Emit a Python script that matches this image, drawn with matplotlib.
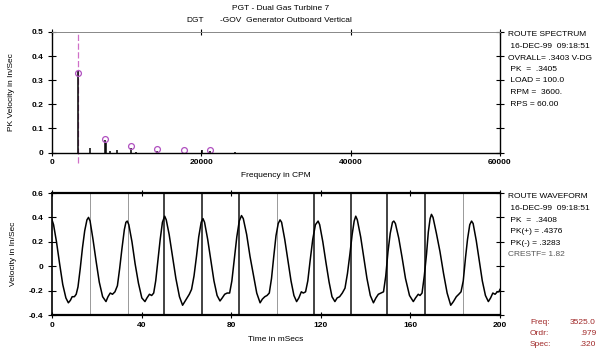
import matplotlib
matplotlib.use("Agg")
import matplotlib.pyplot as plt

plt.rcParams["font.family"] = ["Liberation Sans", "DejaVu Sans"]
plt.rcParams["font.size"] = 6

# ---- spectrum (top): spectral lines in CPM / PK in/sec ----
spec_freq = [3525, 5100, 7050, 7250, 7750, 8650, 10575, 11300, 14100, 20050, 21150, 24500]
spec_amp = [0.340, 0.018, 0.050, 0.040, 0.006, 0.012, 0.020, 0.004, 0.008, 0.012, 0.006, 0.004]
harm_freq = [3525, 7050, 10575, 14100, 17625, 21150]
harm_amp = [0.330, 0.055, 0.027, 0.013, 0.009, 0.009]
cursor_freq = 3525
spec_xticks = [0, 20000, 40000, 60000]
spec_yticks = [0, 0.1, 0.2, 0.3, 0.4, 0.5]
spec_ylabels = ["0", "0.1", "0.2", "0.3", "0.4", "0.5"]

# ---- waveform (bottom): time in ms / velocity in/sec ----
wave_t = [0, 0.7, 2.0, 3.4, 4.8, 6.2, 7.3, 8.2, 9.0, 10.0, 10.8, 11.6, 12.6, 13.6, 14.6, 15.6, 16.3,
          17.0, 18.3, 19.7, 21.1, 22.6, 24.1, 25.0, 26.0, 27.0, 28.1, 29.2, 30.2, 31.2, 32.3, 33.0, 33.6,
          34.3, 35.7, 37.1, 38.6, 40.1, 41.5, 42.4, 43.5, 44.5, 45.4, 46.3, 47.3, 48.3, 49.3, 50.3,
          51.0, 52.3, 53.8, 55.3, 56.9, 58.3, 59.3, 60.3, 61.3, 62.3, 63.4, 64.5, 65.5, 66.6, 67.4,
          68.1, 69.5, 70.9, 72.3, 73.7, 75.0, 76.0, 77.1, 78.2, 79.3, 80.3, 81.4, 82.5, 83.6, 84.6,
          85.4, 86.9, 88.4, 89.9, 91.4, 92.9, 93.9, 95.0, 96.0, 97.0, 98.0, 99.0, 100.0, 101.0, 101.8,
          102.5, 103.9, 105.3, 106.7, 108.0, 109.2, 110.2, 111.3, 112.2, 113.2, 114.2, 115.2, 116.4, 117.6, 118.8,
          119.5, 120.9, 122.3, 123.7, 125.0, 126.3, 127.3, 128.4, 129.6, 130.8, 131.9, 133.0, 134.0, 134.9, 135.6,
          136.3, 137.8, 139.2, 140.6, 142.1, 143.5, 144.6, 145.7, 146.8, 148.0, 149.0, 150.0, 151.0, 152.0, 152.6,
          153.3, 154.8, 156.3, 157.8, 159.6, 161.3, 162.3, 163.5, 164.3, 165.2, 166.2, 167.2, 168.0, 168.8, 169.4,
          170.1, 171.6, 173.2, 174.8, 176.4, 178.0, 179.2, 180.5, 181.6, 182.6, 183.6, 184.6, 185.5, 186.5, 187.3,
          188.0, 189.4, 190.8, 192.1, 193.5, 194.8, 195.8, 196.8, 197.8, 198.8, 199.5, 200.0]
wave_v = [0.38, 0.34, 0.20, 0.02, -0.15, -0.26, -0.30, -0.28, -0.25, -0.25, -0.23, -0.17, -0.02, 0.15, 0.29, 0.38, 0.40,
          0.37, 0.22, 0.04, -0.13, -0.25, -0.29, -0.25, -0.22, -0.23, -0.21, -0.16, -0.02, 0.14, 0.30, 0.36, 0.37,
          0.34, 0.20, 0.02, -0.14, -0.26, -0.29, -0.26, -0.23, -0.24, -0.22, -0.12, 0.05, 0.22, 0.36, 0.41,
          0.38, 0.26, 0.08, -0.10, -0.25, -0.32, -0.29, -0.26, -0.23, -0.19, -0.08, 0.08, 0.24, 0.36, 0.39,
          0.36, 0.22, 0.05, -0.12, -0.24, -0.285, -0.26, -0.23, -0.22, -0.22, -0.12, 0.06, 0.24, 0.37, 0.415,
          0.39, 0.26, 0.08, -0.07, -0.22, -0.30, -0.27, -0.25, -0.24, -0.22, -0.10, 0.08, 0.25, 0.35, 0.38,
          0.36, 0.22, 0.05, -0.12, -0.24, -0.29, -0.26, -0.21, -0.22, -0.21, -0.12, 0.04, 0.22, 0.34, 0.37,
          0.34, 0.20, 0.03, -0.13, -0.25, -0.29, -0.26, -0.25, -0.22, -0.18, -0.06, 0.10, 0.26, 0.37, 0.41,
          0.38, 0.24, 0.07, -0.10, -0.24, -0.30, -0.26, -0.23, -0.22, -0.21, -0.08, 0.12, 0.27, 0.36, 0.37,
          0.35, 0.23, 0.07, -0.10, -0.24, -0.29, -0.26, -0.23, -0.24, -0.22, -0.08, 0.10, 0.28, 0.39, 0.425,
          0.40, 0.27, 0.12, -0.06, -0.22, -0.32, -0.29, -0.25, -0.23, -0.21, -0.12, 0.07, 0.22, 0.34, 0.37,
          0.35, 0.21, 0.04, -0.12, -0.24, -0.29, -0.26, -0.22, -0.23, -0.21, -0.21, -0.19]
cycle_t = [17.0, 33.8, 50.0, 66.8, 83.5, 100.3, 117.1, 133.5, 149.4, 166.5, 183.6]
cycle_dark = [False, False, True, True, True, False, True, True, True, True, False]
wave_xticks = [0, 40, 80, 120, 160, 200]
wave_yticks = [-0.4, -0.2, 0, 0.2, 0.4, 0.6]
wave_ylabels = ["-0.4", "-0.2", "0", "0.2", "0.4", "0.6"]

spec_info = ["ROUTE SPECTRUM", " 16-DEC-99  09:18:51", "OVRALL= .3403 V-DG", " PK  =  .3405",
             " LOAD = 100.0", " RPM =  3600.", " RPS = 60.00"]
wave_info = ["ROUTE WAVEFORM", " 16-DEC-99  09:18:51", " PK  =  .3408", " PK(+) = .4376",
             " PK(-) = .3283", "CRESTF= 1.82"]
cursor_keys = ["Freq:", "Ordr:", "Spec:"]
cursor_vals = ["3525.0", ".979", ".320"]

W, H = 598, 352
fig = plt.figure(figsize=(W / 100, H / 100), dpi=100)
ax1 = fig.add_axes([52 / W, 1 - 152.5 / H, 448 / W, 120.5 / H])
ax2 = fig.add_axes([52 / W, 1 - 315 / H, 448 / W, 122 / H])

# spectrum
ax1.vlines(spec_freq, 0, spec_amp, color="black", lw=1.1)
ax1.plot([cursor_freq, cursor_freq], [-0.045, 0.5], color="#d070c8", lw=0.9, ls=(0, (5, 2)),
         clip_on=False, zorder=1)
ax1.plot(harm_freq, harm_amp, "o", ms=4.2, mfc="none", mec="#b050c0", mew=0.9, clip_on=False)
ax1.set_xlim(0, 60000)
ax1.set_ylim(0, 0.5)
ax1.set_xticks(spec_xticks)
ax1.set_xticklabels([str(v) for v in spec_xticks])
ax1.set_yticks(spec_yticks)
ax1.set_yticklabels(spec_ylabels)
ax1.set_xlabel("Frequency in CPM", labelpad=4)
ax1.set_ylabel("PK Velocity in In/Sec", labelpad=12)
ax1.spines["top"].set_color("#888888")
ax1.spines["top"].set_linewidth(0.7)
for s in ("left", "bottom", "right"):
    ax1.spines[s].set_linewidth(1.0)

# waveform
for tc, dk in zip(cycle_t, cycle_dark):
    ax2.axvline(tc, color="#222222" if dk else "#999999", lw=1.2 if dk else 0.7, zorder=1)
ax2.plot(wave_t, wave_v, color="black", lw=1.1, zorder=3)
ax2.set_xlim(0, 200)
ax2.set_ylim(-0.4, 0.6)
ax2.set_xticks(wave_xticks)
ax2.set_xticklabels([str(v) for v in wave_xticks])
ax2.set_yticks(wave_yticks)
ax2.set_yticklabels(wave_ylabels)
ax2.set_xlabel("Time in mSecs", labelpad=5)
ax2.set_ylabel("Velocity in In/Sec", labelpad=9)
for s in ("top", "bottom"):
    ax2.spines[s].set_linewidth(1.6)
ax2.spines["left"].set_linewidth(1.2)
ax2.spines["right"].set_linewidth(0.9)

for ax in (ax1, ax2):
    ax.tick_params(direction="inout", length=6, width=0.8, top=True, right=True,
                   labelsize=6, pad=3)
    ax.tick_params(axis="x", length=4)
    for lab in ax.get_xticklabels() + ax.get_yticklabels():
        lab.set_fontweight("bold")

# header
fig.text(281 / W, 1 - 8 / H, "PGT - Dual Gas Turbine 7", ha="center", va="center", fontsize=6)
fig.text(186 / W, 1 - 20 / H, "DGT", ha="left", va="center", fontsize=6)
fig.text(220 / W, 1 - 20 / H, "-GOV  Generator Outboard Vertical", ha="left", va="center", fontsize=6)

# info blocks
for i, line in enumerate(spec_info):
    fig.text(508 / W, 1 - (35 + i * 11.5) / H, line, ha="left", va="center", fontsize=6)
for i, line in enumerate(wave_info):
    fig.text(508 / W, 1 - (197 + i * 11.6) / H, line, ha="left", va="center", fontsize=6,
             color="#555555" if i == 5 else "black")
for i, (k, v) in enumerate(zip(cursor_keys, cursor_vals)):
    y = 1 - (322 + i * 11.5) / H
    fig.text(530 / W, y, k, ha="left", va="center", fontsize=6, color="#a02828")
    fig.text(596 / W, y, v, ha="right", va="center", fontsize=6, color="#a02828")

fig.savefig("out.png", dpi=100)
